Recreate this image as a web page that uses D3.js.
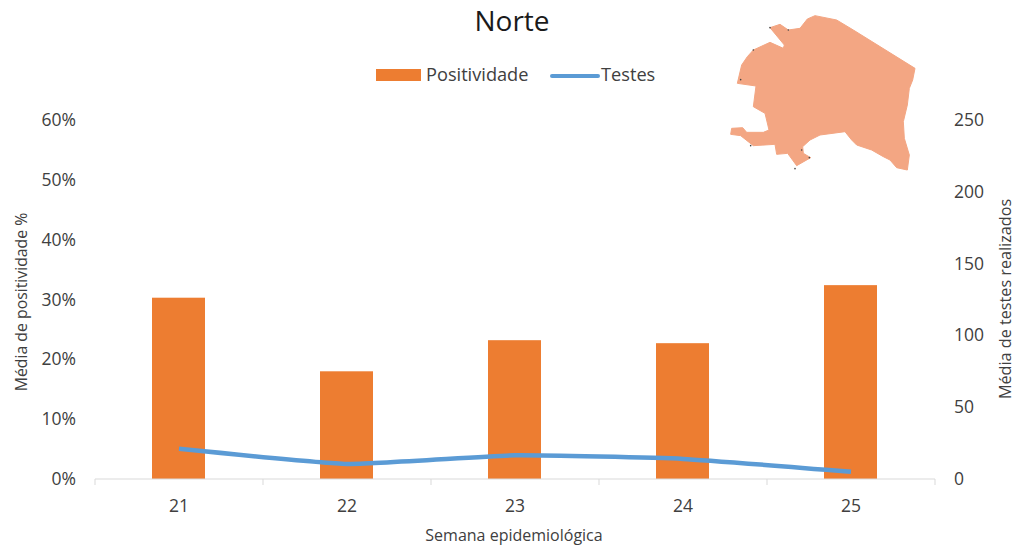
<!DOCTYPE html>
<html><head><meta charset="utf-8">
<script src="https://cdn.jsdelivr.net/npm/d3@7"></script>
<style>html,body{margin:0;padding:0;background:#fff}svg{display:block}text{font-family:"Open Sans","Noto Sans",sans-serif;fill:#404040}</style>
</head><body><svg id="c" width="1018" height="548"></svg>
<script>
const categories = ["21","22","23","24","25"];
const positividade = [30.3, 18.0, 23.2, 22.7, 32.4];
const testes = [21, 10.5, 16.5, 14, 5];
const leftTicks = [0,10,20,30,40,50,60];
const rightTicks = [0,50,100,150,200,250];
const mapOutline = [[285,32],[350,45],[400,75],[585,190],[578,225],[568,250],[562,300],[550,350],[553,400],[568,450],[562,495],[530,488],[510,465],[490,455],[455,435],[410,420],[395,405],[375,380],[300,390],[270,405],[248,425],[250,445],[272,458],[230,482],[203,445],[170,448],[165,418],[100,422],[62,392],[32,388],[35,370],[68,368],[80,382],[130,382],[147,375],[135,325],[100,305],[108,243],[52,235],[65,180],[82,155],[100,135],[150,112],[190,130],[193,120],[150,68],[180,58],[205,75],[240,70],[262,42]];
const mapSpecks = [[225,491],[62,224],[92,422],[150,68],[100,135],[268,458],[245,435],[205,75]];

const svg = d3.select("#c");
const x = d3.scaleBand().domain(categories).range([95,935]);
const yL = d3.scaleLinear().domain([0,60]).range([479,120]);
const yR = d3.scaleLinear().domain([0,250]).range([479,120]);
const mx = d3.scaleLinear().domain([0,3]).range([720,721]);
const my = d3.scaleLinear().domain([0,3]).range([5,6]);
const cx = c => x(c)+x.bandwidth()/2;

// map
svg.append("path").attr("d", d3.line().x(d=>mx(d[0])).y(d=>my(d[1])).curve(d3.curveLinearClosed)(mapOutline)).attr("fill","#f3a683").attr("stroke","#f3a683").attr("stroke-linejoin","round");
svg.selectAll("circle.s").data(mapSpecks).join("circle").attr("class","s").attr("cx",d=>mx(d[0])).attr("cy",d=>my(d[1])).attr("r",0.8).attr("fill","#444");

// bars
const bw = 53;
svg.selectAll("rect.b").data(categories).join("rect").attr("class","b")
  .attr("x",c=>cx(c)-bw/2-0.5).attr("width",bw)
  .attr("y",(c,i)=>yL(positividade[i])).attr("height",(c,i)=>479-yL(positividade[i]))
  .attr("fill","#ed7d31");

// x axis
const ax = svg.append("g").attr("transform","translate(0,479)");
ax.append("line").attr("x1",95).attr("x2",935).attr("stroke","#d9d9d9").attr("stroke-width",1.2);
const edges = [...categories.map(c=>x(c)), 935];
ax.selectAll("line.t").data(edges).join("line").attr("class","t").attr("x1",d=>d).attr("x2",d=>d).attr("y1",0).attr("y2",6).attr("stroke","#d9d9d9");
ax.selectAll("text").data(categories).join("text").attr("x",cx).attr("y",33).attr("text-anchor","middle").attr("font-size",17.5).text(d=>d);

// line
svg.append("path").attr("d", d3.line().x((d,i)=>cx(categories[i])).y(d=>yR(d)).curve(d3.curveCardinal.tension(0.6))(testes))
  .attr("fill","none").attr("stroke","#5b9bd5").attr("stroke-width",4.5);

// y tick labels
svg.selectAll("text.l").data(leftTicks).join("text").attr("class","l").attr("x",76).attr("y",d=>yL(d)+6).attr("text-anchor","end").attr("font-size",17.5).text(d=>d+"%");
svg.selectAll("text.r").data(rightTicks).join("text").attr("class","r").attr("x",954).attr("y",d=>yR(d)+6).attr("font-size",17.5).text(d=>d);

// titles
svg.append("text").attr("x",512).attr("y",31).attr("text-anchor","middle").attr("font-size",28).style("fill","#1a1a1a").text("Norte");
svg.append("text").attr("x",514).attr("y",541).attr("text-anchor","middle").attr("font-size",16).text("Semana epidemiológica");
svg.append("text").attr("transform","translate(27,302) rotate(-90)").attr("text-anchor","middle").attr("font-size",15.8).text("Média de positividade %");
svg.append("text").attr("transform","translate(1011,299) rotate(-90)").attr("text-anchor","middle").attr("font-size",16.2).text("Média de testes realizados");

// legend
svg.append("rect").attr("x",376).attr("y",69).attr("width",45).attr("height",12).attr("fill","#ed7d31");
svg.append("text").attr("x",426).attr("y",81).attr("font-size",18.2).text("Positividade");
svg.append("line").attr("x1",552).attr("x2",598).attr("y1",76).attr("y2",76).attr("stroke","#5b9bd5").attr("stroke-width",4).attr("stroke-linecap","round");
svg.append("text").attr("x",601).attr("y",81).attr("font-size",18.2).text("Testes");
</script></body></html>
